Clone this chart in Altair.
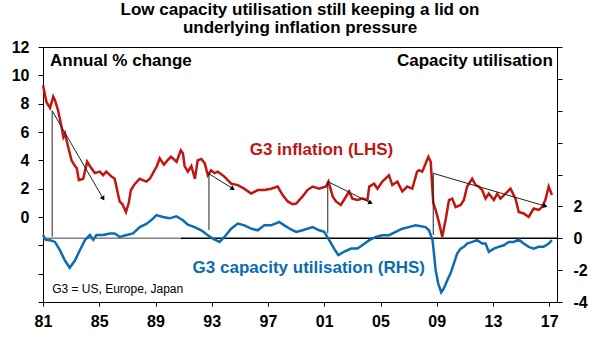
import math
import altair as alt
import pandas as pd

# ---------------- data ----------------
infl_year = [1981.0, 1981.25, 1981.5, 1981.73, 1981.85, 1982.08, 1982.33, 1982.45, 1982.56, 1982.8,
             1983.03, 1983.27, 1983.4, 1983.55, 1983.86, 1984.14, 1984.33, 1984.69, 1985.04, 1985.28,
             1985.5, 1985.87, 1986.1, 1986.27, 1986.45, 1986.65, 1986.9, 1987.1, 1987.25, 1987.5,
             1987.88, 1988.1, 1988.35, 1988.6, 1988.82, 1989.1, 1989.3, 1989.6, 1989.85, 1990.1,
             1990.5, 1990.8, 1990.95, 1991.07, 1991.3, 1991.55, 1991.8, 1992.0, 1992.25, 1992.5,
             1992.72, 1992.96, 1993.2, 1993.43, 1993.9, 1994.38, 1994.85, 1995.3, 1995.8, 1996.27,
             1996.74, 1997.22, 1997.69, 1998.04, 1998.4, 1998.75, 1999.0, 1999.46, 1999.8, 2000.17,
             2000.64, 2001.12, 2001.3, 2001.6, 2001.83, 2002.18, 2002.4, 2002.77, 2003.0, 2003.36,
             2003.7, 2004.07, 2004.2, 2004.55, 2004.78, 2005.13, 2005.6, 2005.84, 2006.2, 2006.55,
             2006.9, 2007.26, 2007.6, 2007.74, 2007.97, 2008.4, 2008.57, 2008.75, 2008.92, 2009.16,
             2009.39, 2009.63, 2009.87, 2010.1, 2010.34, 2010.7, 2010.93, 2011.16, 2011.52, 2011.76,
             2011.99, 2012.23, 2012.47, 2012.7, 2013.06, 2013.3, 2013.53, 2013.89, 2014.24, 2014.6,
             2014.83, 2015.18, 2015.54, 2015.89, 2016.25, 2016.48, 2016.72, 2016.96, 2017.19]
infl_val = [9.3, 8.1, 7.7, 8.5, 8.25, 7.5, 6.3, 5.65, 5.9, 4.9,
            4.0, 3.6, 3.45, 2.6, 2.7, 3.9, 3.6, 3.1, 3.2, 2.95,
            3.2, 2.85, 2.7, 1.9, 1.1, 0.9, 0.35, 1.0, 1.9, 2.3,
            2.7, 2.6, 2.5, 2.7, 3.1, 3.6, 4.15, 3.7, 4.0, 4.25,
            3.9, 4.7, 4.5, 3.6, 3.2, 3.6, 2.7, 4.0, 4.1, 3.8,
            2.95, 3.3, 3.1, 3.2, 2.85, 2.35, 2.25, 2.0, 1.65, 1.9,
            1.9, 2.0, 2.15, 1.55, 1.1, 0.9, 0.95, 1.45, 1.9, 2.15,
            2.0, 2.15, 2.5, 1.45, 1.1, 0.85, 1.2, 1.8, 1.3, 1.2,
            1.3, 1.2, 2.15, 2.35, 2.0, 2.5, 2.95, 2.25, 2.5, 1.8,
            2.15, 2.0, 3.2, 3.3, 3.2, 4.25, 3.9, 1.0, 0.5, -0.4,
            -1.4, -0.2, 1.2, 1.3, 0.7, 0.85, 1.2, 2.15, 2.7, 2.25,
            2.15, 1.9, 1.3, 1.65, 1.2, 1.65, 1.3, 1.65, 2.0, 1.3,
            0.35, 0.25, 0.0, 0.6, 0.5, 0.7, 1.2, 2.15, 1.55]

cap_year = [1981.0, 1981.2, 1981.5, 1981.85, 1982.2, 1982.56, 1982.9, 1983.27, 1983.62, 1983.98,
            1984.33, 1984.57, 1984.8, 1985.28, 1985.75, 1986.1, 1986.46, 1986.94, 1987.4, 1987.88,
            1988.35, 1988.82, 1989.06, 1989.53, 1990.0, 1990.48, 1990.95, 1991.3, 1991.78, 1992.25,
            1992.72, 1993.08, 1993.55, 1993.9, 1994.38, 1994.85, 1995.32, 1995.8, 1996.27, 1996.74,
            1997.22, 1997.8, 1998.16, 1998.64, 1999.0, 1999.46, 2000.17, 2000.64, 2001.0, 2001.35,
            2001.7, 2002.0, 2002.4, 2002.9, 2003.36, 2003.7, 2004.2, 2004.67, 2005.13, 2005.6,
            2006.08, 2006.55, 2007.0, 2007.5, 2008.2, 2008.45, 2008.7, 2008.8, 2008.92, 2009.1,
            2009.32, 2009.5, 2009.75, 2009.98, 2010.22, 2010.45, 2010.7, 2010.93, 2011.16, 2011.52,
            2011.87, 2012.23, 2012.47, 2012.7, 2013.06, 2013.4, 2013.77, 2014.12, 2014.48, 2014.83,
            2015.18, 2015.54, 2015.89, 2016.25, 2016.6, 2016.96, 2017.19]
cap_val = [0.2, -0.1, -0.12, -0.23, -0.75, -1.4, -1.85, -1.4, -0.75, -0.12,
           0.2, -0.1, 0.2, 0.2, 0.3, 0.3, 0.08, 0.2, 0.3, 0.7,
           0.9, 1.23, 1.45, 1.33, 1.25, 1.38, 1.13, 0.85, 0.7, 0.5,
           0.19, -0.02, -0.23, 0.08, 0.6, 0.92, 0.81, 0.6, 0.5, 0.81,
           0.81, 1.02, 0.81, 0.55, 0.4, 0.5, 0.7, 0.5, 0.4, -0.12,
           -0.65, -1.06, -0.85, -0.65, -0.65, -0.44, -0.12, 0.08, 0.19, 0.19,
           0.4, 0.6, 0.7, 0.81, 0.7, 0.5, -0.12, -0.95, -2.0, -2.83,
           -3.4, -3.15, -2.63, -2.2, -1.58, -0.96, -0.65, -0.54, -0.33, -0.23,
           -0.12, -0.33, -0.33, -0.85, -0.65, -0.54, -0.44, -0.23, -0.23, -0.08,
           -0.33, -0.54, -0.65, -0.54, -0.54, -0.33, -0.12]

# annotation arrows (start = top of each vertical line)
arr_x0 = [1981.65, 1992.8, 2001.25, 2008.75]
arr_y0 = [7.5, 3.05, 2.5, 3.08]
arr_x1 = [1985.28, 1994.5, 2004.3, 2016.72]
arr_y1 = [1.3, 2.0, 1.0, 0.77]
vl_bottom = [-1.39, -0.92, -1.15, -1.27]   # where each vertical line meets the blue line (LHS units)

x_ticks = [1981, 1985, 1989, 1993, 1997, 2001, 2005, 2009, 2013, 2017]

# ---------------- layout ----------------
W, H = 514, 255
X_DOM = [1981, 2017.55]
YL_DOM = [-6, 12]
YR_DOM = [-4, 12]
RED = "#C0160F"
BLUE = "#0A6DB3"
FONT = "Liberation Sans"

infl = pd.DataFrame({"year": infl_year, "val": infl_val})
cap = pd.DataFrame({"year": cap_year, "val": cap_val})

pxx = W / (X_DOM[1] - X_DOM[0])
pxy = H / (YL_DOM[1] - YL_DOM[0])
angles = []
for a, b, c, d in zip(arr_x0, arr_y0, arr_x1, arr_y1):
    dx = (c - a) * pxx
    dy = -(d - b) * pxy
    angles.append(math.degrees(math.atan2(dx, -dy)) % 360)
arrows = pd.DataFrame({"x0": arr_x0, "y0": arr_y0, "x1": arr_x1, "y1": arr_y1,
                       "bot": vl_bottom, "ang": angles})

zero = pd.DataFrame({"x0": [1981, 1990.8], "x1": [1990.8, 2017.55], "y": [0, 0],
                     "c": ["#808080", "#000000"]})

labels = pd.DataFrame({
    "text": ["Annual % change", "Capacity utilisation", "G3 inflation (LHS)",
             "G3 capacity utilisation (RHS)", "G3 = US, Europe, Japan"],
    "x": [1981.5, 2017.25, 2000.8, 1999.9, 1981.65],
    "y": [11.0, 11.0, 4.7, -3.6, -5.1],
})

xaxis = alt.Axis(values=x_ticks, labelExpr="slice(toString(datum.value), 2)", title=None,
                 grid=False, tickSize=4, labelPadding=7, labelFlush=False, labelOverlap=False,
                 domainColor="black", tickColor="black", labelColor="black",
                 labelFont=FONT, labelFontSize=16, labelFontWeight="bold")
xenc = alt.X("year:Q", scale=alt.Scale(domain=X_DOM, nice=False, zero=False), axis=xaxis)

laxis = alt.Axis(values=list(range(-6, 13, 2)), labelExpr="datum.value >= 0 ? datum.label : ''",
                 title=None, grid=False, tickSize=5, labelPadding=9, labelOverlap=False,
                 domainColor="black", tickColor="black", labelColor="black",
                 labelFont=FONT, labelFontSize=16, labelFontWeight="bold", orient="left")
lscale = alt.Scale(domain=YL_DOM, nice=False, zero=False)

raxis = alt.Axis(values=list(range(-4, 13, 2)),
                 labelExpr="datum.value <= 2 ? toString(datum.value) : ''",
                 title=None, grid=False, tickSize=5, labelPadding=11, labelOverlap=False,
                 domainColor="black", tickColor="black", labelColor="black",
                 labelFont=FONT, labelFontSize=16, labelFontWeight="bold", orient="right")
rscale = alt.Scale(domain=YR_DOM, nice=False, zero=False)

red_line = alt.Chart(infl).mark_line(color=RED, strokeWidth=2.5).encode(
    x=xenc, y=alt.Y("val:Q", scale=lscale, axis=laxis))

vlines = alt.Chart(arrows).mark_rule(color="#222222", strokeWidth=1).encode(
    x=alt.X("x0:Q", scale=alt.Scale(domain=X_DOM, nice=False, zero=False), axis=xaxis),
    y=alt.Y("y0:Q", scale=lscale, axis=laxis), y2="bot:Q")

arrow_lines = alt.Chart(arrows).mark_rule(color="#222222", strokeWidth=1).encode(
    x=alt.X("x0:Q", scale=alt.Scale(domain=X_DOM, nice=False, zero=False), axis=xaxis),
    x2="x1:Q",
    y=alt.Y("y0:Q", scale=lscale, axis=laxis), y2="y1:Q")

heads = alt.Chart(arrows).mark_point(shape="triangle-up", filled=True, color="black",
                                      size=28, opacity=1).encode(
    x=alt.X("x1:Q", scale=alt.Scale(domain=X_DOM, nice=False, zero=False), axis=xaxis),
    y=alt.Y("y1:Q", scale=lscale, axis=laxis),
    angle=alt.Angle("ang:Q", scale=None))

def text_layer(idx, **kw):
    d = labels.iloc[idx:idx + 1]
    return alt.Chart(d).mark_text(font=FONT, **kw).encode(
        x=alt.X("x:Q", scale=alt.Scale(domain=X_DOM, nice=False, zero=False), axis=xaxis),
        y=alt.Y("y:Q", scale=lscale, axis=laxis),
        text="text:N")

t1 = text_layer(0, fontSize=17, fontWeight="bold", align="left", baseline="middle", color="black")
t2 = text_layer(1, fontSize=17, fontWeight="bold", align="right", baseline="middle", color="black")
t3 = text_layer(2, fontSize=17, fontWeight="bold", align="center", baseline="middle", color=RED)
t4 = text_layer(3, fontSize=17, fontWeight="bold", align="center", baseline="middle", color=BLUE)
t5 = text_layer(4, fontSize=12, fontWeight="normal", align="left", baseline="middle", color="black")

left = alt.layer(red_line, vlines, arrow_lines, heads, t1, t2, t3, t4, t5)

zero_rule = alt.Chart(zero).mark_rule(strokeWidth=1.5).encode(
    x=alt.X("x0:Q", scale=alt.Scale(domain=X_DOM, nice=False, zero=False), axis=xaxis),
    x2="x1:Q",
    y=alt.Y("y:Q", scale=rscale, axis=raxis),
    color=alt.Color("c:N", scale=None))

blue_line = alt.Chart(cap).mark_line(color=BLUE, strokeWidth=2.5).encode(
    x=xenc, y=alt.Y("val:Q", scale=rscale, axis=raxis))

right = alt.layer(zero_rule, blue_line)

chart = alt.layer(left, right).resolve_scale(y="independent").properties(
    width=W, height=H,
    autosize=alt.AutoSizeParams(type="none"),
    padding={"left": 43, "top": 47, "right": 43, "bottom": 36},
    title=alt.TitleParams(
        ["Low capacity utilisation still keeping a lid on", "underlying inflation pressure"],
        font=FONT, fontSize=17, fontWeight="bold", color="black", anchor="middle",
        lineHeight=18, offset=2),
    background="white",
).configure_view(stroke="black", strokeWidth=1)

chart.save("out.html", embed_options={"renderer": "svg", "actions": False})
